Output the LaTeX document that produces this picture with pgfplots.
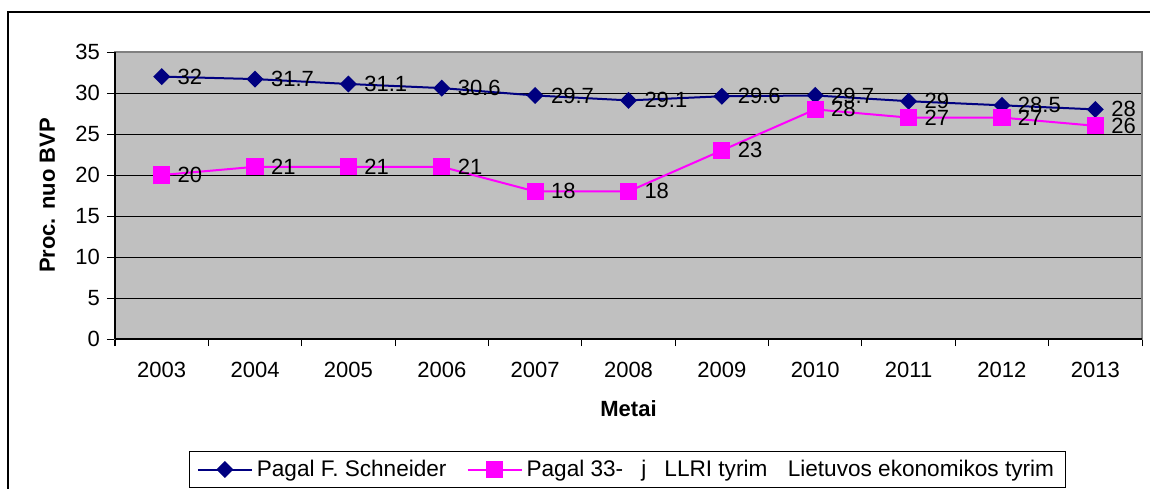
\documentclass[border=0pt]{standalone}
\usepackage{pgfplots}
\pgfplotsset{compat=1.18}
\usepackage{fontspec}
\setmainfont{Liberation Sans}
\definecolor{plotgray}{HTML}{C0C0C0}
\definecolor{bordergray}{HTML}{808080}
\definecolor{navyc}{HTML}{000080}
\definecolor{magc}{HTML}{FF00FF}
\newcommand{\fs}{\fontsize{11}{13}\selectfont}
\newcommand{\fl}{\fontsize{11.3}{13}\selectfont}
\begin{document}
\begin{tikzpicture}
\useasboundingbox (0,0) rectangle (575pt,244pt);
\draw[black, line width=0.6pt] (4pt,-2pt) -- (4pt,238pt) -- (580pt,238pt);
\begin{axis}[
  at={(57.5pt,74.5pt)}, anchor=south west,
  scale only axis, width=513.5pt, height=143.5pt,
  xmin=-0.5, xmax=10.5, ymin=0, ymax=35,
  xtick={0,1,2,3,4,5,6,7,8,9,10},
  xticklabels={2003,2004,2005,2006,2007,2008,2009,2010,2011,2012,2013},
  major x tick style={draw=none},
  minor xtick={-0.5,0.5,1.5,2.5,3.5,4.5,5.5,6.5,7.5,8.5,9.5,10.5},
  minor x tick style={black, line width=0.5pt},
  minor tick length=3.5pt,
  ytick={0,5,10,15,20,25,30,35},
  major tick length=4pt,
  y tick style={black, line width=0.5pt},
  tick align=outside,
  xtick pos=bottom, ytick pos=left,
  ymajorgrids, grid style={black, line width=0.5pt},
  axis background/.style={fill=plotgray},
  axis line style={draw=bordergray, line width=1pt},
  tick label style={font=\fs},
  xticklabel style={yshift=-3.8pt},
  /pgf/number format/assume math mode=true,
  xlabel={\bfseries Metai},
  ylabel={\bfseries Proc. nuo BVP},
  xlabel style={at={(axis description cs:0.5,-0.2439)}, anchor=center, font=\fs},
  ylabel style={at={(axis description cs:-0.0657,0.5)}, anchor=center, font=\fs},
  nodes near coords,
  every node near coord/.append style={anchor=west, xshift=7.5pt, inner sep=0pt, font=\fs, text=black},
  legend style={at={(axis description cs:0.499,-0.4547)}, anchor=center, draw=black, line width=0.5pt,
    font=\fl, inner xsep=3.5pt, inner ysep=2pt,
    /tikz/every even column/.append style={column sep=8pt}},
  legend columns=2,
  legend cell align=left,
  legend image code/.code={\draw[mark repeat=2,mark phase=2,#1] plot coordinates {(0pt,0pt) (13.5pt,0pt) (27pt,0pt)};},
  after end axis/.code={
    \draw[black, line width=0.6pt] (rel axis cs:0,0) -- (rel axis cs:0,1);
    \draw[black, line width=0.8pt] (rel axis cs:0,0) -- (rel axis cs:1,0);
  },
]
\addplot[navyc, line width=1pt, mark=square*, mark size=2.5pt, mark options={rotate=45, fill=navyc, draw=navyc}]
  coordinates {(0,32) (1,31.7) (2,31.1) (3,30.6) (4,29.7) (5,29.1) (6,29.6) (7,29.7) (8,29) (9,28.5) (10,28)};
\addlegendentry{Pagal F. Schneider}
\addplot[magc, line width=1pt, mark=square*, mark size=3.8pt, mark options={fill=magc, draw=magc}]
  coordinates {(0,20) (1,21) (2,21) (3,21) (4,18) (5,18) (6,23) (7,28) (8,27) (9,27) (10,26)};
\addlegendentry{Pagal 33-\hspace{0.8em}j\hspace{0.8em}LLRI tyrim\hspace{0.9em}Lietuvos ekonomikos tyrim\hspace{0.5em}}
\end{axis}
\end{tikzpicture}
\end{document}
